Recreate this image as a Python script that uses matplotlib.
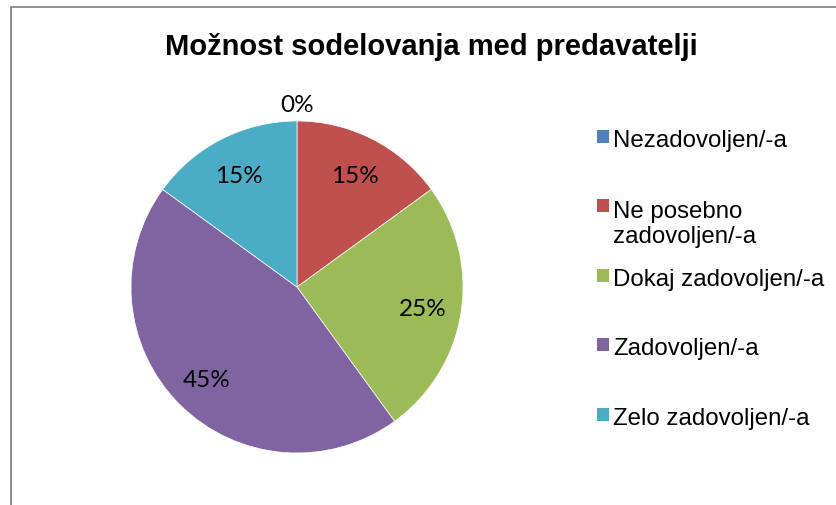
import matplotlib.pyplot as plt
import matplotlib.patches as mpatches
import numpy as np

title = "Možnost sodelovanja med predavatelji"
categories = ["Nezadovoljen/-a", "Ne posebno\nzadovoljen/-a", "Dokaj zadovoljen/-a",
              "Zadovoljen/-a", "Zelo zadovoljen/-a"]
values = [0, 15, 25, 45, 15]
colors = ["#4F81BD", "#C0504D", "#9BBB59", "#8064A2", "#4BACC6"]

W, H = 837, 506


def fx(x):
    return x / W


def fy(y):
    return 1 - y / H


fig = plt.figure(figsize=(W / 100, H / 100), dpi=100)

# chart frame (right and bottom edges fall outside the picture)
frame = mpatches.Rectangle((fx(11), -0.1), 1.2, fy(8) + 0.1, transform=fig.transFigure,
                           fill=False, edgecolor="#868686", lw=1.3)
fig.add_artist(frame)

fig.text(fx(431), fy(55), title, ha="center", va="baseline", fontsize=21,
         fontweight="bold", family="Liberation Sans")

# pie: centre (297, 288), radius 166 px
cx, cy, r = 297, 288, 166
ax = fig.add_axes([fx(cx - r), fy(cy + r), 2 * r / W, 2 * r / H])
wedges, _ = ax.pie(values, colors=colors, startangle=90, counterclock=False,
                   wedgeprops=dict(edgecolor="white", linewidth=0.5))
ax.set_xlim(-1, 1)
ax.set_ylim(-1, 1)
ax.set_aspect("equal")
ax.axis("off")

total = sum(values)
for w, v in zip(wedges, values):
    mid = np.deg2rad((w.theta1 + w.theta2) / 2)
    d = 0.77 if v > 0 else 1.11
    ax.text(d * np.cos(mid), d * np.sin(mid), f"{v / total * 100:.0f}%",
            ha="center", va="center_baseline", fontsize=17.5, family="Lato",
            color="black", clip_on=False)

# legend drawn by hand to keep Excel layout
for i, (lab, col) in enumerate(zip(categories, colors)):
    yc = 137.5 + i * 69.4
    fig.add_artist(mpatches.Rectangle((fx(597), fy(yc + 6.5)), 12.5 / W, 13 / H,
                                      transform=fig.transFigure, facecolor=col,
                                      edgecolor="none"))
    extra = lab.count("\n") * 27
    fig.text(fx(613), fy(yc + 9.5 + extra), lab, ha="left", va="baseline",
             fontsize=17.3, family="Liberation Sans", color="black")

fig.savefig("out.png", dpi=100)
